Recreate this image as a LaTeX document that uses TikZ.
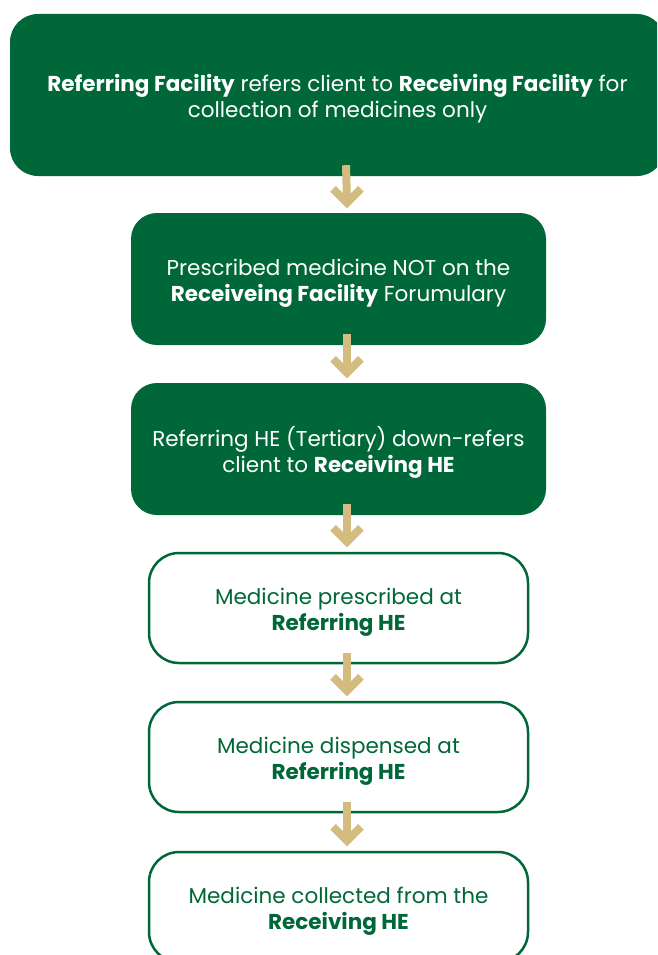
\documentclass[tikz,border=0pt]{standalone}
\usepackage{fontspec}
\setmainfont{Poppins}
\usetikzlibrary{calc}
\definecolor{leaf}{RGB}{0,104,56}
\definecolor{sand}{RGB}{212,188,128}
% two-line caption, lowered slightly inside its box (box size kept)
\newcommand\boxtext[1]{\raisebox{-4.5pt}[\height][\depth]{\begin{tabular}{@{}c@{}}#1\end{tabular}}}
\tikzset{
  boxfont/.style={font=\fontsize{21.5}{26}\selectfont},
  darkbox/.style={rectangle, rounded corners=28pt, fill=leaf, text=white,
    align=center, inner sep=0pt, boxfont},
  lightbox/.style={rectangle, rounded corners=30pt, draw=leaf, line width=2.5pt,
    fill=white, text=leaf, align=center, inner sep=0pt,
    minimum width=379pt, minimum height=110pt, boxfont},
  flowline/.style={draw=sand, line width=8pt},
  flowhead/.style={draw=sand, line width=8pt, miter limit=4, line join=miter}
}
% flow arrow from the bottom of one box to the top of the next,
% set a little right of the box centres
\newcommand\flowarrow[2]{%
  \draw[flowline] ($(#1.south)+(8.5,-11)$) -- ($(#2.north)+(8.5,-10)$);
  \draw[flowhead] ($(#2.north)+(-5.5,-24)$) -- ($(#2.north)+(8.5,-10)$) -- ($(#2.north)+(22.5,-24)$);
}
\begin{document}
\begin{tikzpicture}[x=1pt,y=-1pt]
  \useasboundingbox (0,0) rectangle (657,955);
  \begin{scope}
    \clip (0,0) rectangle (657,955);
    \node[darkbox, minimum width=655pt, minimum height=162pt] (b1) at (337.5,95)
      {\boxtext{\textbf{Referring Facility} refers client to \textbf{Receiving Facility} for\\collection of medicines only}};
    \node[darkbox, rounded corners=26pt, minimum width=415pt, minimum height=132pt] (b2) at (338.5,279)
      {\boxtext{Prescribed medicine NOT on the\\\textbf{Receiveing Facility} Forumulary}};
    \node[darkbox, rounded corners=26pt, minimum width=415pt, minimum height=132pt] (b3) at (338.5,449)
      {\boxtext{Referring HE (Tertiary) down-refers\\client to \textbf{Receiving HE}}};
    \node[lightbox] (b4) at (338.5,608) {\boxtext{Medicine prescribed at\\\textbf{Referring HE}}};
    \node[lightbox] (b5) at (338.5,757) {\boxtext{Medicine dispensed at\\\textbf{Referring HE}}};
    \node[lightbox] (b6) at (338.5,907) {\boxtext{Medicine collected from the\\\textbf{Receiving HE}}};
    \flowarrow{b1}{b2}
    \flowarrow{b2}{b3}
    \flowarrow{b3}{b4}
    \flowarrow{b4}{b5}
    \flowarrow{b5}{b6}
  \end{scope}
\end{tikzpicture}
\end{document}
